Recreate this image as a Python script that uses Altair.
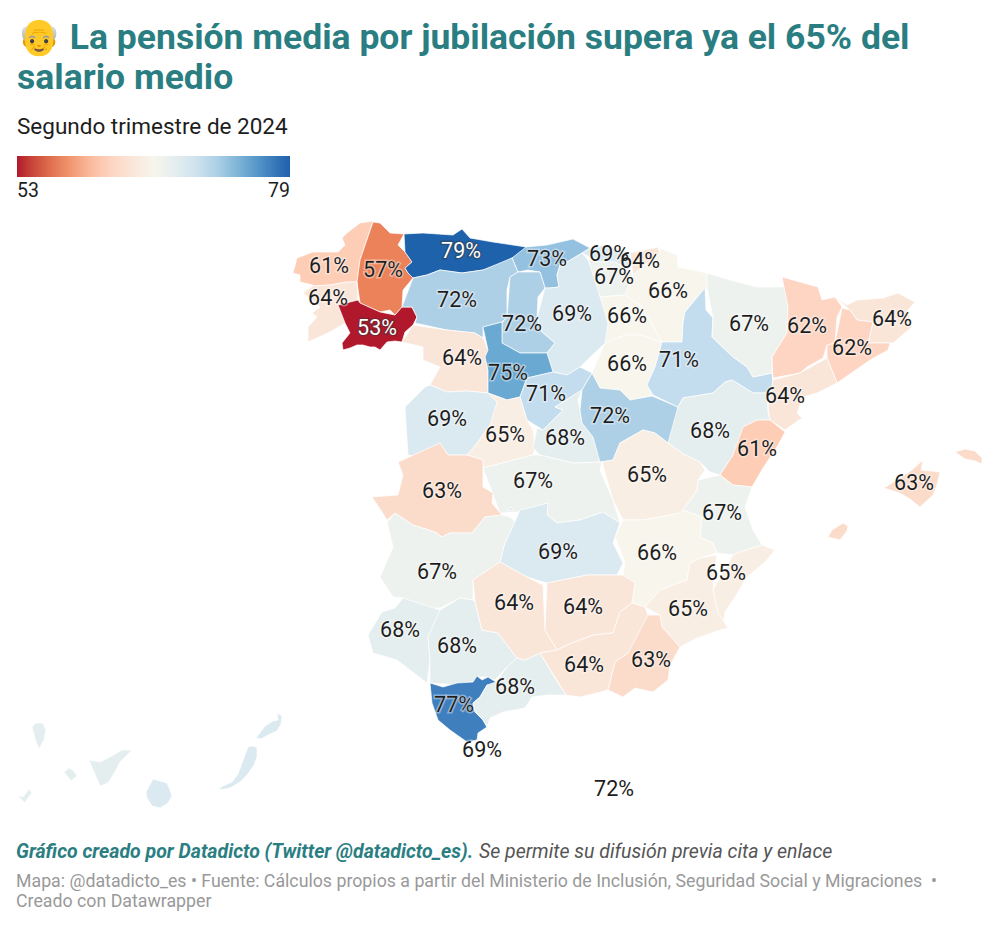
import altair as alt
import pandas as pd

TEAL = "#2a7e82"
DARK = "#1d1d1d"

# province, value, label position (map units = reference pixels)
NAMES = ["A Coruña","Lugo","Pontevedra","Ourense","Asturias","Cantabria","Vizcaya","Guipúzcoa","Álava","Navarra",
         "La Rioja","León","Palencia","Burgos","Zamora","Valladolid","Soria","Segovia","Salamanca","Ávila",
         "Madrid","Guadalajara","Zaragoza","Huesca","Lleida","Girona","Barcelona","Tarragona","Teruel","Castellón",
         "Valencia","Cuenca","Toledo","Cáceres","Badajoz","Ciudad Real","Albacete","Alicante","Murcia","Huelva",
         "Sevilla","Cádiz","Málaga","Córdoba","Jaén","Granada","Almería","Baleares","Ceuta","Melilla","Santa Cruz de Tenerife","Las Palmas"]
VALUES = [61,57,64,53,79,73,69,64,67,66,
          66,72,72,69,64,75,66,71,69,65,
          68,72,71,67,62,64,62,64,68,61,
          67,65,67,63,67,69,66,65,65,68,
          68,77,68,64,64,64,63,63,69,72,68,69]
LABEL_X = [329,383,328,377,461,547,609,640,614,668,
           627,457,522,572,462,508,627,546,447,505,
           565,610,679,749,807,892,852,785,710,757,
           722,647,533,442,437,558,657,726,688,400,
           457,454,515,514,583,584,651,914,482,614,None,None]
LABEL_Y = [266,270,298,328,251,259,254,261,277,291,
           316,300,324,314,358,373,364,394,419,435,
           438,416,360,324,326,319,348,396,431,449,
           513,475,481,491,572,552,553,573,609,630,
           646,705,687,603,607,665,660,483,750,789,None,None]

OUTLINES = {
 "A Coruña": [[[373,221],[360,223],[347,233],[342,238],[345,245],[338,252],[313,252],[297,258],[293,273],[300,275],[300,282],[313,285],[303,293],[313,286],[330,285],[347,282],[357,282],[360,260],[365,243]]],
 "Lugo": [[[373,222],[380,223],[390,233],[404,234],[398,245],[405,252],[412,262],[405,268],[408,273],[413,278],[403,290],[402,307],[395,315],[390,310],[380,312],[360,303],[357,282],[360,260],[365,243]]],
 "Pontevedra": [[[303,293],[313,286],[330,285],[347,282],[357,282],[358,300],[338,305],[345,323],[330,332],[308,342],[308,327],[317,317],[312,313],[320,307],[312,300]]],
 "Ourense": [[[395,315],[402,307],[412,307],[417,317],[413,325],[405,332],[402,342],[395,341],[387,342],[380,350],[375,347],[370,347],[363,345],[357,345],[350,348],[343,350],[342,343],[350,333],[345,323],[338,305],[358,300],[360,303],[380,312],[390,310]]],
 "Asturias": [[[404,234],[423,233],[453,235],[462,229],[470,238],[493,242],[513,245],[526,247],[523,253],[512,258],[503,263],[483,270],[462,273],[440,270],[427,275],[413,278],[408,273],[405,268],[412,262],[405,252],[398,245]]],
 "Cantabria": [[[526,247],[547,245],[560,242],[573,239],[590,248],[582,253],[567,262],[560,265],[557,275],[559,287],[550,288],[545,288],[540,272],[528,270],[518,272],[512,258],[523,253]]],
 "Vizcaya": [[[582,253],[590,248],[605,245],[630,253],[628,270],[615,262],[600,262],[588,260]]],
 "Guipúzcoa": [[[630,253],[658,247],[660,253],[645,265],[633,275],[628,270]]],
 "Álava": [[[588,260],[600,262],[615,262],[628,270],[633,275],[628,290],[625,295],[600,297],[595,280]]],
 "Navarra": [[[633,275],[645,265],[660,253],[660,248],[677,255],[678,267],[707,273],[707,288],[697,297],[685,312],[683,323],[682,342],[662,342],[650,320],[640,305],[625,295],[628,290]]],
 "La Rioja": [[[600,297],[625,295],[640,305],[650,320],[662,342],[640,335],[625,335],[605,343],[608,323]]],
 "León": [[[413,278],[427,275],[440,270],[462,273],[483,270],[512,258],[518,272],[510,277],[507,290],[507,317],[502,322],[483,327],[483,338],[475,333],[447,330],[415,323],[417,317],[412,307],[402,307],[403,290]]],
 "Palencia": [[[507,317],[502,323],[502,343],[520,353],[547,353],[555,343],[542,332],[537,318],[538,297],[545,288],[540,272],[518,272],[510,277],[507,290]]],
 "Burgos": [[[545,288],[550,288],[559,287],[557,275],[560,265],[567,262],[582,253],[588,260],[595,280],[600,297],[608,323],[605,343],[580,367],[567,375],[553,372],[547,353],[555,343],[542,332],[537,318],[538,297]]],
 "Zamora": [[[413,325],[447,330],[475,333],[483,338],[488,350],[485,357],[488,370],[488,393],[467,391],[447,392],[430,385],[440,367],[423,360],[423,347],[402,342],[405,332]]],
 "Valladolid": [[[483,327],[502,322],[502,343],[520,353],[547,353],[553,372],[527,378],[525,383],[520,397],[507,400],[488,393],[488,370],[485,357],[488,350],[483,338]]],
 "Soria": [[[605,343],[625,335],[640,335],[662,342],[655,367],[647,385],[653,395],[630,400],[620,390],[600,388],[592,373],[580,367]]],
 "Segovia": [[[527,378],[553,372],[567,375],[580,367],[592,373],[582,390],[555,407],[563,410],[543,430],[527,420],[520,397],[525,383]]],
 "Salamanca": [[[405,407],[425,387],[430,385],[447,392],[467,391],[488,393],[497,402],[497,413],[490,425],[478,442],[467,455],[448,455],[440,443],[420,457],[408,455],[410,427]]],
 "Ávila": [[[497,402],[488,393],[507,400],[520,397],[527,420],[533,430],[535,448],[533,455],[483,468],[483,460],[467,455],[478,442],[490,425],[497,413]]],
 "Madrid": [[[537,428],[543,430],[563,410],[555,407],[582,390],[578,400],[580,410],[582,423],[593,437],[602,462],[573,463],[540,455],[533,448],[533,430]]],
 "Guadalajara": [[[582,390],[592,373],[600,388],[620,390],[630,400],[652,396],[678,407],[678,432],[668,443],[655,433],[643,430],[620,443],[613,460],[600,462],[593,437],[582,423],[580,410],[578,400]]],
 "Zaragoza": [[[705,288],[706,310],[713,318],[712,337],[733,357],[747,367],[753,377],[772,373],[773,385],[767,393],[753,393],[732,380],[725,382],[713,393],[683,398],[678,407],[653,395],[647,385],[655,367],[662,342],[682,342],[683,323],[685,312],[697,297]]],
 "Huesca": [[[707,288],[707,273],[730,280],[757,287],[785,287],[788,307],[787,333],[772,357],[772,373],[753,377],[747,367],[733,357],[712,337],[713,318],[706,310]]],
 "Lleida": [[[782,277],[800,282],[818,287],[822,300],[835,297],[842,307],[837,317],[835,343],[827,345],[823,358],[807,367],[800,373],[773,378],[772,357],[787,333],[788,307],[785,287]]],
 "Girona": [[[835,297],[847,305],[857,300],[883,298],[898,293],[915,302],[908,310],[912,327],[893,343],[868,343],[873,322],[857,320],[850,310],[842,307]]],
 "Barcelona": [[[842,308],[850,310],[857,320],[873,322],[868,343],[890,343],[888,350],[870,360],[837,383],[827,358],[827,345],[835,343],[837,317]]],
 "Tarragona": [[[827,358],[837,383],[817,393],[803,397],[797,413],[802,418],[785,430],[770,420],[768,407],[773,380],[800,373],[807,367]]],
 "Teruel": [[[678,407],[683,398],[713,393],[725,382],[732,380],[753,393],[767,393],[768,412],[770,420],[757,420],[743,427],[740,447],[733,455],[720,475],[710,472],[700,462],[685,455],[668,443],[678,432]]],
 "Castellón": [[[743,427],[757,420],[770,420],[785,432],[777,447],[763,468],[752,487],[733,485],[720,475],[733,455],[740,447]]],
 "Valencia": [[[720,475],[733,485],[752,487],[745,507],[753,530],[762,545],[740,552],[733,555],[717,553],[713,543],[700,537],[702,517],[683,510],[697,490],[698,480],[705,470]]],
 "Cuenca": [[[602,462],[613,460],[620,443],[643,430],[655,433],[668,443],[685,455],[700,462],[705,470],[698,480],[697,490],[683,510],[680,513],[643,520],[623,520],[613,500],[600,470]]],
 "Toledo": [[[483,468],[533,455],[540,455],[573,463],[602,462],[600,470],[613,500],[620,523],[603,512],[580,520],[557,523],[547,515],[548,503],[533,507],[517,512],[500,513],[492,492],[483,487]]],
 "Cáceres": [[[440,443],[448,455],[467,455],[483,460],[483,487],[493,493],[492,503],[502,515],[485,517],[472,533],[450,533],[442,537],[435,532],[413,525],[395,513],[387,520],[382,512],[372,497],[398,495],[403,475],[398,462],[420,457]]],
 "Badajoz": [[[387,522],[395,513],[413,525],[435,532],[442,537],[450,533],[472,533],[485,517],[502,515],[510,517],[517,523],[510,533],[505,543],[500,562],[473,580],[473,600],[460,598],[440,608],[420,608],[403,598],[393,597],[380,577],[393,547],[393,533]]],
 "Ciudad Real": [[[520,510],[533,507],[548,503],[547,515],[557,523],[580,520],[603,512],[620,523],[613,543],[623,563],[617,575],[587,575],[547,583],[527,577],[500,562],[505,543],[510,533],[517,523]],[[507,510],[511,507],[513,511],[509,516]]],
 "Albacete": [[[615,537],[623,520],[643,520],[680,513],[683,510],[702,517],[700,537],[713,543],[717,553],[700,558],[690,563],[687,580],[660,590],[645,607],[632,603],[635,583],[623,575],[625,562],[615,547]]],
 "Alicante": [[[733,555],[740,552],[762,545],[775,550],[765,562],[747,577],[735,597],[725,612],[723,625],[718,613],[713,590],[717,555]]],
 "Murcia": [[[728,628],[720,630],[697,638],[680,647],[662,627],[660,615],[645,607],[660,590],[687,580],[690,563],[700,558],[717,555],[713,590],[718,613],[723,625]]],
 "Huelva": [[[403,598],[395,608],[382,612],[368,635],[373,653],[397,660],[427,683],[430,660],[428,637],[440,625],[440,610],[420,608]]],
 "Sevilla": [[[440,610],[460,598],[473,600],[475,602],[482,630],[498,633],[517,658],[507,667],[495,680],[487,677],[477,677],[473,682],[457,685],[430,683],[430,660],[428,637],[440,625]]],
 "Cádiz": [[[430,683],[443,687],[457,683],[473,682],[477,676],[482,680],[488,677],[496,682],[493,687],[487,685],[480,697],[473,703],[475,712],[483,720],[487,727],[478,733],[477,740],[467,742],[450,730],[438,720],[432,703],[425,695]]],
 "Málaga": [[[496,682],[507,667],[517,658],[525,660],[540,653],[553,675],[566,695],[548,695],[532,697],[525,708],[503,712],[490,718],[487,727],[483,720],[475,712],[473,703],[480,697],[487,685],[493,687]]],
 "Córdoba": [[[473,580],[500,562],[527,577],[543,585],[545,630],[557,650],[540,653],[525,660],[517,658],[498,633],[482,630],[475,602],[473,600]]],
 "Jaén": [[[547,583],[587,575],[617,575],[623,575],[635,583],[632,603],[620,612],[613,633],[593,635],[567,645],[557,650],[545,630],[543,585]]],
 "Granada": [[[540,653],[557,650],[567,645],[593,635],[613,633],[620,612],[632,603],[645,607],[648,615],[643,640],[628,653],[615,662],[608,690],[597,693],[580,697],[566,695],[553,675]]],
 "Almería": [[[648,615],[660,615],[662,627],[680,647],[670,665],[668,680],[653,692],[635,688],[623,697],[608,690],[615,662],[628,653],[643,640]]],
 "Baleares": [[[884,488],[900,478],[912,470],[923,460],[921,470],[940,472],[937,485],[933,495],[920,507],[910,499],[900,493],[890,495]],
              [[955,452],[965,449],[975,451],[982,458],[982,464],[975,461],[965,459],[957,458]],
              [[828,537],[832,530],[843,523],[848,526],[847,531],[840,540],[833,543]],
              [[838,549],[847,553],[840,555]]],
 "Santa Cruz de Tenerife": [[[32,727],[36,723],[43,723],[46,730],[44,740],[39,749],[36,742],[33,735]],
              [[64,772],[69,768],[74,771],[77,776],[71,781],[66,779]],
              [[17,795],[23,797],[29,789],[32,793],[28,798],[25,803],[22,800]],
              [[89,760],[100,762],[110,757],[122,750],[132,750],[120,762],[115,772],[108,783],[100,786],[95,777]]],
 "Las Palmas": [[[153,779],[160,781],[167,783],[170,790],[172,796],[168,803],[160,808],[152,806],[147,798],[146,792],[150,787]],
              [[248,747],[252,746],[257,747],[257,757],[254,765],[247,775],[240,782],[230,788],[219,790],[221,787],[232,782],[238,774],[243,762]],
              [[265,726],[273,721],[278,720],[277,713],[282,716],[281,724],[277,731],[268,735],[261,739],[256,738],[259,733]]],
}

COLOR_DOMAIN = [53, 57, 61, 62, 63, 64, 65, 66, 67, 68, 69, 71, 72, 73, 75, 77, 79]
COLOR_RANGE = ["#b2182b", "#ec8259", "#fdcdb5", "#fdd5c2", "#fbdccb", "#fae6d9", "#f9eee3", "#f7f5ec",
               "#eef2ee", "#e5eeee", "#dbe9f0", "#c3dcee", "#aed0e6", "#94c1df", "#6aa9d2", "#3f7fbe", "#1f62ac"]

TITLE_LINES = ["👴 La pensión media por jubilación supera ya el 65% del", "salario medio"]
SUBTITLE = "Segundo trimestre de 2024"
FOOT_BOLD = "Gráfico creado por Datadicto (Twitter @datadicto_es)."
FOOT_ITALIC = "Se permite su difusión previa cita y enlace"
FOOT_LINES = ["Mapa: @datadicto_es • Fuente: Cálculos propios a partir del Ministerio de Inclusión, Seguridad Social y Migraciones\u00a0\u00a0•",
              "Creado con Datawrapper"]

features = [
    {"type": "Feature",
     "properties": {"name": n, "value": VALUES[NAMES.index(n)]},
     "geometry": {"type": "MultiPolygon", "coordinates": [[ring] for ring in rings]}}
    for n, rings in OUTLINES.items()
]
labels = pd.DataFrame({"name": NAMES, "value": VALUES, "lx": LABEL_X, "ly": LABEL_Y}).dropna()
labels["text"] = labels["value"].astype(int).astype(str) + "%"

PROJ = dict(type="identity", scale=1, translate=[-8, -8])
color = alt.Color("properties.value:Q",
    scale=alt.Scale(domain=COLOR_DOMAIN, range=COLOR_RANGE),
    legend=alt.Legend(orient="none", legendX=9, legendY=148, direction="horizontal", title=None,
                      gradientLength=273, gradientThickness=21, values=[53, 79],
                      labelFont="Roboto", labelFontSize=19.5, labelColor=DARK, labelOffset=5))

shapes = alt.Chart(alt.Data(values=features)).mark_geoshape(stroke="white", strokeWidth=0.7).encode(color=color).project(**PROJ)

is_light = "datum.value == 53 || datum.value == 79"
halo = alt.Chart(labels).mark_text(font="Roboto", fontSize=21.5, strokeWidth=3, strokeOpacity=0.4, baseline="middle", dy=1).encode(
    longitude="lx:Q", latitude="ly:Q", text="text:N",
    stroke=alt.condition(is_light, alt.value("#333333"), alt.value("#ffffff")),
    fill=alt.condition(is_light, alt.value("#333333"), alt.value("#ffffff"))).project(**PROJ)
text = alt.Chart(labels).mark_text(font="Roboto", fontSize=21.5, baseline="middle", dy=1).encode(
    longitude="lx:Q", latitude="ly:Q", text="text:N",
    fill=alt.condition(is_light, alt.value("#ffffff"), alt.value(DARK))).project(**PROJ)

def txt(s, x, y, size, color_, weight="normal", style="normal"):
    return alt.Chart(pd.DataFrame({"t": [s]})).mark_text(
        font="Roboto", fontSize=size, color=color_, fontWeight=weight, fontStyle=style,
        align="left", baseline="alphabetic").encode(text="t:N", x=alt.value(x), y=alt.value(y))

texts = [
    txt(TITLE_LINES[0], 9, 41, 35.5, TEAL, "bold"),
    txt(TITLE_LINES[1], 9, 81, 35.5, TEAL, "bold"),
    txt(SUBTITLE, 9, 126, 22.5, DARK),
    txt(FOOT_BOLD, 8, 850, 19.5, TEAL, "bold", "italic"),
    txt(FOOT_ITALIC, 471, 850, 19.5, "#555555", "normal", "italic"),
    txt(FOOT_LINES[0], 8, 879, 17.75, "#999999"),
    txt(FOOT_LINES[1], 8, 899, 17.75, "#999999"),
]

chart = alt.layer(shapes, halo, text, *texts).properties(
    width=984, height=905, padding=0, autosize=alt.AutoSizeParams(type="none"),
    background="white"
).configure_view(stroke=None)

chart.save("out.html", embed_options={"renderer": "svg", "actions": False})
